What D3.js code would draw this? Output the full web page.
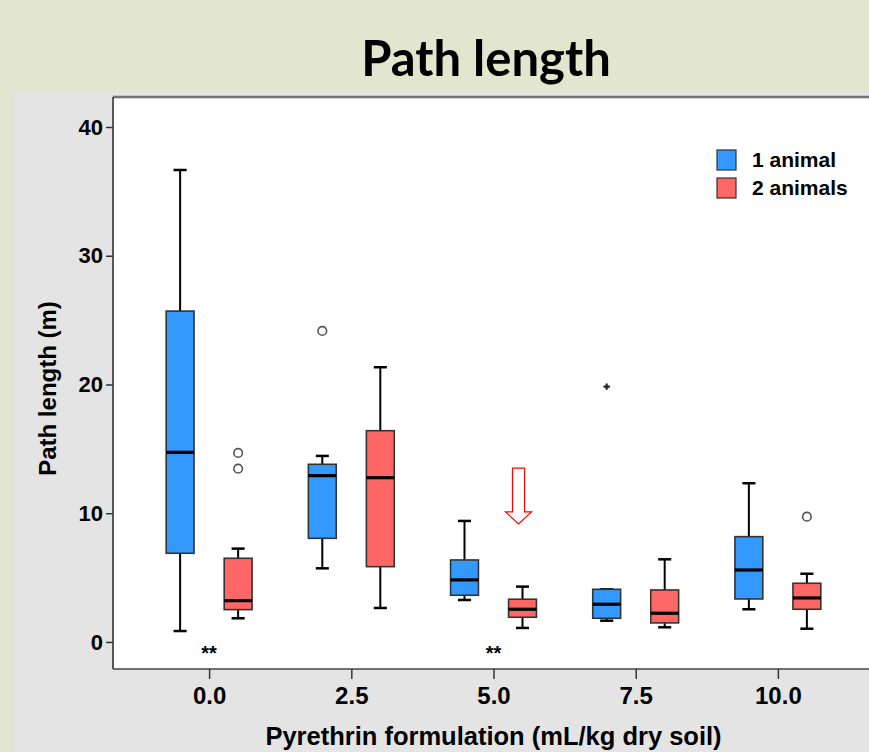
<!DOCTYPE html>
<html>
<head>
<meta charset="utf-8">
<script src="https://cdn.jsdelivr.net/npm/d3@7"></script>
<style>
  html, body { margin: 0; padding: 0; background: #e2e6cf; }
  svg { display: block; }
</style>
</head>
<body>
<svg id="chart" width="869" height="752"></svg>
<script>
// ---------- DATA ----------
const doses = [0, 2.5, 5, 7.5, 10];
const seriesNames = ["1 animal", "2 animals"];
const seriesColors = ["#3399ff", "#ff6666"];
// [lower whisker, Q1, median, Q3, upper whisker] per dose
const oneAnimalStats = [
  [0.85, 6.89, 14.73, 25.7, 36.66],
  [5.72, 8.05, 12.92, 13.8, 14.45],
  [3.26, 3.63, 4.82, 6.37, 9.4],
  [1.65, 1.84, 2.93, 4.09, 4.09],
  [2.54, 3.34, 5.59, 8.18, 12.33]
];
const twoAnimalStats = [
  [1.84, 2.51, 3.21, 6.5, 7.25],
  [2.64, 5.85, 12.76, 16.41, 21.34],
  [1.09, 1.92, 2.54, 3.32, 4.3],
  [1.14, 1.48, 2.23, 4.04, 6.42],
  [1.03, 2.54, 3.42, 4.56, 5.3]
];
// outliers: [dose, series index, value]
const outliers = [[0, 1, 14.68], [0, 1, 13.46], [2.5, 0, 24.16], [10, 1, 9.73]];
const extremes = [[7.5, 0, 19.83]];
const yTicks = [0, 10, 20, 30, 40];
const xTicks = [0, 2.5, 5, 7.5, 10];
const significance = [[0, "**"], [5, "**"]];
const arrowNote = { dose: 5.44, from: 13.5, to: 9.17 };

// ---------- LAYOUT ----------
const svg = d3.select("#chart");
const W = 869, H = 752;
const plot = { left: 113, top: 97, right: 874, bottom: 669 };

const x = d3.scaleLinear().domain([-1.69, 11.69]).range([plot.left, plot.right]);
const y = d3.scaleLinear().domain([-2.1, 42.33]).range([plot.bottom, plot.top]);

const offset = 0.51;      // series offset in dose units
const boxW = x(0.49) - x(0);
const capW = x(0.23) - x(0);

// backgrounds
svg.append("rect").attr("width", W).attr("height", H).attr("fill", "#e2e6cf");
svg.append("rect").attr("x", 14).attr("y", 92).attr("width", W - 14).attr("height", H - 92).attr("fill", "#e4e4e4");
svg.append("rect").attr("x", plot.left).attr("y", plot.top)
  .attr("width", plot.right - plot.left).attr("height", plot.bottom - plot.top).attr("fill", "#ffffff");

// frame lines
svg.append("line").attr("x1", plot.left).attr("x2", W).attr("y1", plot.top).attr("y2", plot.top)
  .attr("stroke", "#737373").attr("stroke-width", 2.5);
svg.append("line").attr("x1", plot.left).attr("x2", plot.left).attr("y1", plot.top).attr("y2", plot.bottom)
  .attr("stroke", "#333").attr("stroke-width", 1.6);
svg.append("line").attr("x1", plot.left).attr("x2", W).attr("y1", plot.bottom).attr("y2", plot.bottom)
  .attr("stroke", "#444").attr("stroke-width", 1.6);

// title
svg.append("text").attr("x", 486).attr("y", 76).attr("text-anchor", "middle")
  .attr("font-family", "Lato, 'Open Sans', sans-serif").attr("font-weight", 700)
  .attr("font-size", 49).attr("fill", "#000").text("Path length");

// axes
const yAxis = d3.axisLeft(y).tickValues(yTicks).tickSize(7).tickPadding(3).tickFormat(d3.format("d"));
const gy = svg.append("g").attr("transform", `translate(${plot.left},0)`).call(yAxis);
gy.select(".domain").remove();
gy.selectAll("line").attr("stroke", "#333").attr("stroke-width", 1.5);
gy.selectAll("text").attr("font-family", "'Liberation Sans', Arial, sans-serif")
  .attr("font-weight", 700).attr("font-size", 22).attr("fill", "#000");

const xAxis = d3.axisBottom(x).tickValues(xTicks).tickSize(10).tickPadding(8).tickFormat(d3.format(".1f"));
const gx = svg.append("g").attr("transform", `translate(0,${plot.bottom})`).call(xAxis);
gx.select(".domain").remove();
gx.selectAll("line").attr("stroke", "#333").attr("stroke-width", 1.5);
gx.selectAll("text").attr("font-family", "'Liberation Sans', Arial, sans-serif")
  .attr("font-weight", 700).attr("font-size", 24).attr("fill", "#000");

// axis titles
svg.append("text").attr("transform", `translate(56,${(y(0) + y(40)) / 2 + 4}) rotate(-90)`)
  .attr("text-anchor", "middle").attr("font-family", "'Liberation Sans', Arial, sans-serif")
  .attr("font-weight", 700).attr("font-size", 24).attr("fill", "#000").text("Path length (m)");
svg.append("text").attr("x", (x(0) + x(10)) / 2).attr("y", 745).attr("text-anchor", "middle")
  .attr("font-family", "'Liberation Sans', Arial, sans-serif")
  .attr("font-weight", 700).attr("font-size", 25.5).attr("fill", "#000")
  .text("Pyrethrin formulation (mL/kg dry soil)");

// boxes
const allStats = [oneAnimalStats, twoAnimalStats];
const gBoxes = svg.append("g");
allStats.forEach((stats, si) => {
  stats.forEach((s, di) => {
    const cx = x(doses[di] + (si === 0 ? -offset : offset));
    const [lo, q1, med, q3, hi] = s;
    const g = gBoxes.append("g");
    // whiskers
    g.append("line").attr("x1", cx).attr("x2", cx).attr("y1", y(hi)).attr("y2", y(q3))
      .attr("stroke", "#000").attr("stroke-width", 2);
    g.append("line").attr("x1", cx).attr("x2", cx).attr("y1", y(q1)).attr("y2", y(lo))
      .attr("stroke", "#000").attr("stroke-width", 2);
    g.append("line").attr("x1", cx - capW / 2).attr("x2", cx + capW / 2).attr("y1", y(hi)).attr("y2", y(hi))
      .attr("stroke", "#000").attr("stroke-width", 2.5);
    g.append("line").attr("x1", cx - capW / 2).attr("x2", cx + capW / 2).attr("y1", y(lo)).attr("y2", y(lo))
      .attr("stroke", "#000").attr("stroke-width", 2.5);
    // box
    g.append("rect").attr("x", cx - boxW / 2).attr("y", y(q3))
      .attr("width", boxW).attr("height", y(q1) - y(q3))
      .attr("fill", seriesColors[si]).attr("stroke", "#333").attr("stroke-width", 1.6);
    // median
    g.append("line").attr("x1", cx - boxW / 2).attr("x2", cx + boxW / 2).attr("y1", y(med)).attr("y2", y(med))
      .attr("stroke", "#000").attr("stroke-width", 3.2);
  });
});

// outliers
svg.append("g").selectAll("circle").data(outliers).join("circle")
  .attr("cx", d => x(d[0] + (d[1] === 0 ? -offset : offset)))
  .attr("cy", d => y(d[2])).attr("r", 4.3)
  .attr("fill", "#fff").attr("stroke", "#555").attr("stroke-width", 1.6);

// extremes
svg.append("g").selectAll("path").data(extremes).join("path")
  .attr("transform", d => `translate(${x(d[0] + (d[1] === 0 ? -offset : offset))},${y(d[2])})`)
  .attr("d", d3.symbol(d3.symbolCross, 22)).attr("fill", "#222");

// significance marks
svg.append("g").selectAll("text").data(significance).join("text")
  .attr("x", d => x(d[0])).attr("y", 660).attr("text-anchor", "middle")
  .attr("font-family", "'Liberation Sans', Arial, sans-serif").attr("font-weight", 700)
  .attr("font-size", 20).attr("fill", "#000").text(d => d[1]);

// annotation arrow
(function () {
  const cx = x(arrowNote.dose);
  const top = y(arrowNote.from), tip = y(arrowNote.to);
  const headBase = tip - 12;
  const sw = 6, hw = 13;
  const p = [[cx - sw, top], [cx + sw, top], [cx + sw, headBase], [cx + hw, headBase],
             [cx, tip], [cx - hw, headBase], [cx - sw, headBase]];
  svg.append("path").attr("d", d3.line()(p) + "Z")
    .attr("fill", "#fff").attr("stroke", "#ff0000").attr("stroke-width", 1.2);
})();

// legend
const legend = svg.append("g");
seriesNames.forEach((name, i) => {
  legend.append("rect").attr("x", 717).attr("y", 150 + i * 28).attr("width", 19).attr("height", 20)
    .attr("fill", seriesColors[i]).attr("stroke", "#333").attr("stroke-width", 1.2);
  legend.append("text").attr("x", 752).attr("y", 167 + i * 28)
    .attr("font-family", "'Liberation Sans', Arial, sans-serif").attr("font-weight", 700)
    .attr("font-size", 21).attr("fill", "#000").text(name);
});
</script>
</body>
</html>
